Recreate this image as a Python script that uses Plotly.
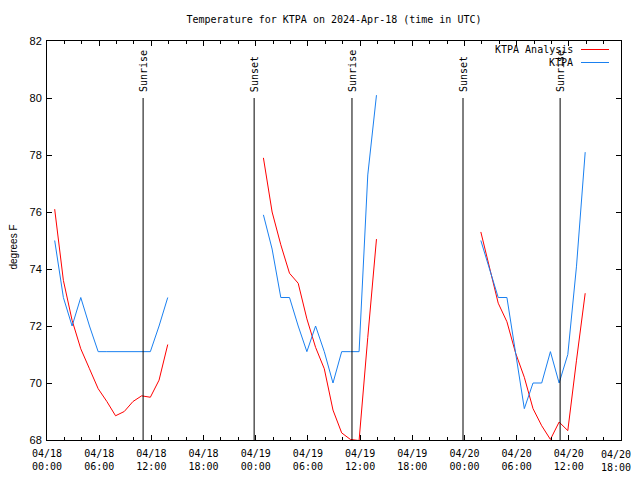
import plotly.graph_objects as go

# ---------------- data ----------------
day1_times = ["2024-04-18 00:53", "2024-04-18 01:53", "2024-04-18 02:53", "2024-04-18 03:53",
              "2024-04-18 04:53", "2024-04-18 05:53", "2024-04-18 06:53", "2024-04-18 07:53",
              "2024-04-18 08:53", "2024-04-18 09:53", "2024-04-18 10:53", "2024-04-18 11:53",
              "2024-04-18 12:53", "2024-04-18 13:53"]
day2_times = ["2024-04-19 00:53", "2024-04-19 01:53", "2024-04-19 02:53", "2024-04-19 03:53",
              "2024-04-19 04:53", "2024-04-19 05:53", "2024-04-19 06:53", "2024-04-19 07:53",
              "2024-04-19 08:53", "2024-04-19 09:53", "2024-04-19 10:53", "2024-04-19 11:53",
              "2024-04-19 12:53", "2024-04-19 13:53"]
day3_times = ["2024-04-20 01:53", "2024-04-20 02:53", "2024-04-20 03:53", "2024-04-20 04:53",
              "2024-04-20 05:53", "2024-04-20 06:53", "2024-04-20 07:53", "2024-04-20 08:53",
              "2024-04-20 09:53", "2024-04-20 10:53", "2024-04-20 11:53", "2024-04-20 12:53",
              "2024-04-20 13:53"]

analysis_day1 = [76.1, 73.6, 72.2, 71.2, 70.5, 69.8, 69.35, 68.85, 69.0, 69.35, 69.55, 69.5, 70.1, 71.35]
analysis_day2 = [77.9, 76.0, 74.85, 73.85, 73.5, 72.25, 71.25, 70.5, 69.05, 68.25, 68.02, 67.98, 71.6, 75.05]
analysis_day3 = [75.3, 74.0, 72.8, 72.15, 71.05, 70.2, 69.1, 68.5, 68.02, 68.63, 68.33, 70.8, 73.15]

obs_day1 = [75.0, 73.0, 72.0, 73.0, 72.0, 71.1, 71.1, 71.1, 71.1, 71.1, 71.1, 71.1, 72.0, 73.0]
obs_day2 = [75.9, 74.7, 73.0, 73.0, 72.0, 71.1, 72.0, 71.1, 70.0, 71.1, 71.1, 71.1, 77.3, 80.1]
obs_day3 = [75.0, 74.0, 73.0, 73.0, 71.1, 69.1, 70.0, 70.0, 71.1, 70.0, 71.0, 74.1, 78.1]

event_times = ["2024-04-18 11:03", "2024-04-18 23:49", "2024-04-19 11:04",
               "2024-04-19 23:50", "2024-04-20 11:00"]
event_labels = ["Sunrise", "Sunset", "Sunrise", "Sunset", "Sunrise"]
event_low, event_high = 68, 80

tick_vals = ["2024-04-18 00:00", "2024-04-18 06:00", "2024-04-18 12:00", "2024-04-18 18:00",
             "2024-04-19 00:00", "2024-04-19 06:00", "2024-04-19 12:00", "2024-04-19 18:00",
             "2024-04-20 00:00", "2024-04-20 06:00", "2024-04-20 12:00", "2024-04-20 18:00"]
tick_text = ["04/18<br>00:00", "04/18<br>06:00", "04/18<br>12:00", "04/18<br>18:00",
             "04/19<br>00:00", "04/19<br>06:00", "04/19<br>12:00", "04/19<br>18:00",
             "04/20<br>00:00", "04/20<br>06:00", "04/20<br>12:00", "04/20<br>18:00"]
y_ticks = [68, 70, 72, 74, 76, 78, 80, 82]

series_names = ["KTPA Analysis", "KTPA"]
series_colors = ["#ff0000", "#1a80f0"]

# ---------------- figure ----------------
MONO = "DejaVu Sans Mono"
SANS = "Liberation Sans"
OFF = 8  # default body margin of the html page (all sides)

def joined(parts_t, parts_v):
    xs, ys = [], []
    for i, (t, v) in enumerate(zip(parts_t, parts_v)):
        if i:
            xs.append(None)
            ys.append(None)
        xs.extend(t)
        ys.extend(v)
    return xs, ys


fig = go.Figure()
ax, ay = joined([day1_times, day2_times, day3_times], [analysis_day1, analysis_day2, analysis_day3])
bx, by = joined([day1_times, day2_times, day3_times], [obs_day1, obs_day2, obs_day3])
fig.add_trace(go.Scatter(x=ax, y=ay, mode="lines", name=series_names[0],
                         line=dict(color=series_colors[0], width=1), connectgaps=False))
fig.add_trace(go.Scatter(x=bx, y=by, mode="lines", name=series_names[1],
                         line=dict(color=series_colors[1], width=1), connectgaps=False))

for t, lab in zip(event_times, event_labels):
    fig.add_shape(type="line", x0=t, x1=t, y0=event_low, y1=event_high, xref="x", yref="y",
                  line=dict(color="black", width=1))
    fig.add_annotation(x=t, y=event_high, xref="x", yref="y", text=lab, textangle=-90,
                       showarrow=False, xanchor="center", yanchor="bottom", yshift=4,
                       font=dict(family=MONO, size=10, color="black"))

# plot area in page pixels
L, R, T, B = 47, 621, 41, 440
W, H = 640 - 2 * OFF, 480 - 2 * OFF

def px(x):
    return (x - L) / (R - L)

def py(y):
    return (B - y) / (B - T)

# legend (gnuplot style: text then sample, top right)
for i, (name, col) in enumerate(zip(series_names, series_colors)):
    yy = 49.5 + 13 * i
    fig.add_annotation(x=px(575), y=py(yy), xref="paper", yref="paper", text=name,
                       showarrow=False, xanchor="right", yanchor="middle",
                       font=dict(family=MONO, size=10, color="black"))
    fig.add_shape(type="line", xref="paper", yref="paper", x0=px(581), x1=px(609),
                  y0=py(yy), y1=py(yy), line=dict(color=col, width=1))

fig.add_annotation(x=px(13), y=py(247.5), xref="paper", yref="paper", text="degrees F",
                   textangle=-90, showarrow=False, xanchor="center", yanchor="middle",
                   font=dict(family=SANS, size=10, color="black"))

# the last tick label sits at the page edge: draw it right-aligned so it stays whole
shown_text = tick_text[:-1] + [""]
fig.add_annotation(x=px(640 - OFF), y=py(448), xref="paper", yref="paper", text=tick_text[-1],
                   showarrow=False, xanchor="right", yanchor="top", align="center",
                   borderpad=0, font=dict(family=MONO, size=10, color="black"))

fig.update_layout(
    width=W, height=H,
    margin=dict(l=L - OFF, r=W - (R - OFF), t=T - OFF, b=H - (B - OFF), pad=0),
    paper_bgcolor="white", plot_bgcolor="white",
    showlegend=False,
    title=dict(text="Temperature for KTPA on 2024-Apr-18 (time in UTC)",
               x=((L + R) / 2 - OFF) / W, xanchor="center", y=1 - (19 - OFF) / H, yanchor="middle",
               font=dict(family=MONO, size=10, color="black")),
)
fig.update_xaxes(
    type="date", range=[tick_vals[0], tick_vals[-1]], automargin=False,
    tickmode="array", tickvals=tick_vals, ticktext=shown_text,
    ticks="inside", ticklen=5, tickcolor="black", tickwidth=1,
    showline=True, linecolor="black", linewidth=1, mirror="ticks",
    showgrid=False, zeroline=False, ticklabelstandoff=4,
    tickfont=dict(family=MONO, size=10, color="black"),
    minor=dict(ticks="inside", ticklen=3, dtick=2 * 3600 * 1000, tickcolor="black", showgrid=False),
)
fig.update_yaxes(
    range=[68, 82], automargin=False, tickmode="array", tickvals=y_ticks,
    ticktext=[str(v) for v in y_ticks],
    ticks="inside", ticklen=5, tickcolor="black", tickwidth=1,
    showline=True, linecolor="black", linewidth=1, mirror="ticks",
    showgrid=False, zeroline=False, ticklabelstandoff=2,
    tickfont=dict(family=SANS, size=11, color="black"),
)

fig.write_html("out.html")
